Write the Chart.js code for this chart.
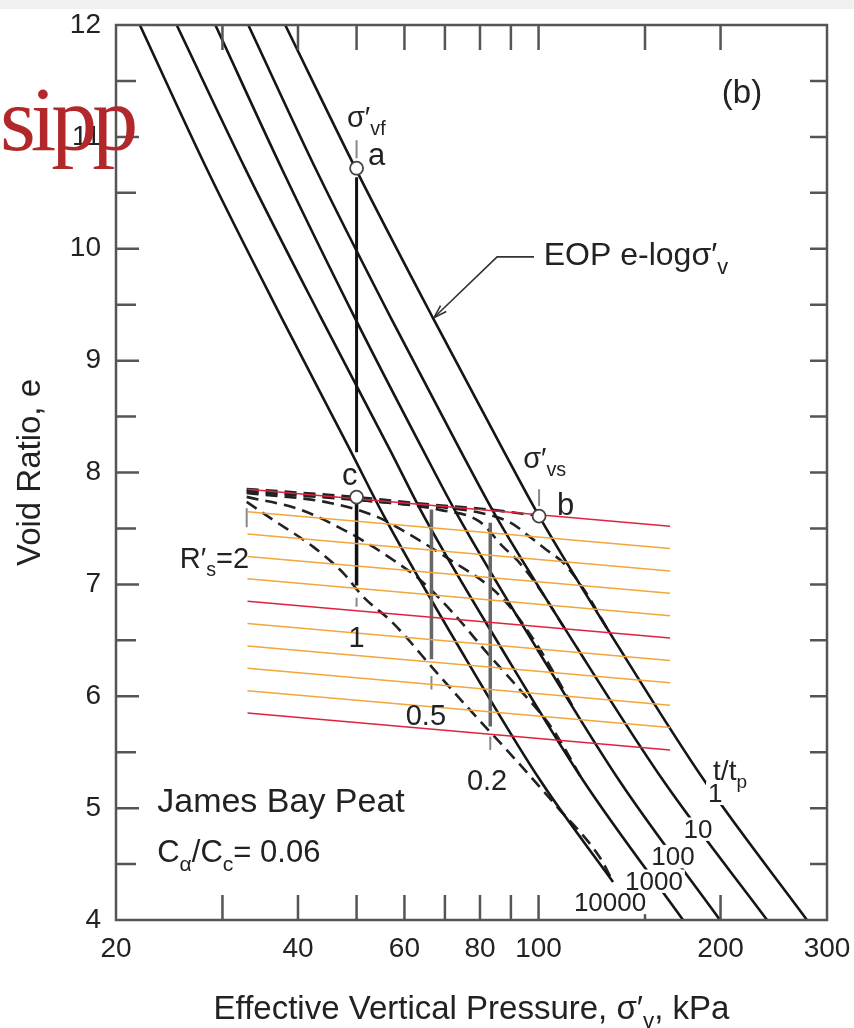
<!DOCTYPE html>
<html>
<head>
<meta charset="utf-8">
<script src="https://cdn.jsdelivr.net/npm/chart.js@4.4.1/dist/chart.umd.min.js"></script>
<style>
  html, body { margin: 0; padding: 0; background: #fff; }
  #wrap { position: relative; width: 854px; height: 1028px; overflow: hidden; }
  #chart { position: absolute; left: 0; top: 0; }
  #band { position: absolute; left: 0; top: 0; width: 854px; height: 9px; background: #f0f0f0; }
  #stamp { position: absolute; left: 0; top: 73px; font-family: "Liberation Serif", "Times New Roman", serif;
           font-size: 92px; line-height: 1; letter-spacing: -5px; color: #b2282a; }
</style>
</head>
<body>
<div id="wrap">
  <canvas id="chart" width="854" height="1028"></canvas>
  <div id="band"></div>
  <div id="stamp">sipp</div>
</div>
<script>
// axes
var xTickMarks = [30, 40, 50, 60, 70, 80, 90, 100, 150, 200];
var xTickLabels = [20, 40, 60, 80, 100, 200, 300];
var yTickMarks = [4.5, 5, 5.5, 6, 6.5, 7, 7.5, 8, 8.5, 9, 9.5, 10, 10.5, 11, 11.5];
var yTickLabels = [4, 5, 6, 7, 8, 9, 10, 11, 12];

// e - log sigma'v curves, t/tp = 1 (EOP), 10, 100, 1000, 10000
var eLevels = [12, 10.69, 9.38, 8.20, 7.61, 6.42, 5.235, 4.0];
var sigmaT1 = [38.1, 50.1, 66.9, 87.4, 100.2, 136.4, 188.6, 278];
var sigmaT10 = [33.1, 43.0, 57.0, 74.2, 85.0, 116.2, 161.3, 238.8];
var sigmaT100 = [29.2, 37.8, 49.7, 64.4, 73.6, 99.5, 136.4, 199.6];
var sigmaT1000 = [25.2, 32.9, 43.7, 56.8, 64.6, 87.0, 118.9, 173.4];
var sigmaT10000 = [21.9, 28.4, 37.6, 48.8, 55.5, 74.2, 101.0, 132.8];
var eT10000 = [12, 10.69, 9.38, 8.20, 7.61, 6.42, 5.235, 4.34];

// dashed paths after surcharge removal
var reboundSigma = [32.9, 50, 66.5, 83.2, 100.2];
var reboundE = [7.853, 7.78, 7.713, 7.668, 7.612];
var pathASigma = [32.9, 59.0, 80.0, 90.0, 97.0, 103.0, 110.0, 119.0, 130.0];
var pathAE = [7.83, 7.72, 7.64, 7.55, 7.42, 7.31, 7.19, 6.95, 6.60];
var pathBSigma = [32.9, 50.7, 68.7, 80.0, 87.4, 92.1, 100.6, 110.0];
var pathBE = [7.84, 7.755, 7.666, 7.559, 7.335, 7.219, 6.951, 6.62];
var pathCSigma = [32.9, 45.2, 54.1, 60.6, 71.4, 83.1, 89.7, 100.6, 115.0];
var pathCE = [7.818, 7.728, 7.603, 7.46, 7.219, 6.978, 6.799, 6.415, 5.87];
var pathDSigma = [32.9, 40.3, 47.5, 52.0, 57.4, 63.7, 72.2, 82.2, 93.2, 105.7, 118.0];
var pathDE = [7.782, 7.67, 7.49, 7.37, 7.22, 7.04, 6.745, 6.388, 6.057, 5.70, 5.26];
var pathR2Sigma = [32.9, 36.4, 42.4, 47.5, 51.3, 57.4, 67.9, 77.0, 90.7, 107.3, 126.4, 132.8];
var pathR2E = [7.737, 7.576, 7.335, 7.103, 6.888, 6.656, 6.209, 5.878, 5.459, 5.012, 4.556, 4.34];

// secondary compression at constant sigma'vf  (R's = 1, 0.5, 0.2)
var aDropSigma = 50, aDropE = [10.64, 8.18];
var verticalSigma = [50, 66.5, 83.2];
var verticalTopE = [7.72, 7.67, 7.55];
var verticalBottomE = [6.99, 6.33, 5.73];

// points a, b, c
var keySigma = [50, 100.2, 50];
var keyE = [10.72, 7.61, 7.78];

// small marker ticks
var markSigma = [50, 100.2, 32.9, 50, 66.5, 83.2];
var markTopE = [10.97, 7.85, 7.68, 6.88, 6.18, 5.64];
var markBottomE = [10.81, 7.70, 7.51, 6.80, 6.06, 5.52];

// overlaid guide lines
var guideSigma = [33, 165];
var guideLeftE = [7.85, 7.65, 7.45, 7.25, 7.05, 6.85, 6.65, 6.45, 6.25, 6.05, 5.85];
var guideRightE = [7.52, 7.32, 7.12, 6.92, 6.72, 6.52, 6.32, 6.12, 5.92, 5.72, 5.52];
var guideKind = ['r', 'o', 'o', 'o', 'o', 'r', 'o', 'o', 'o', 'o', 'r'];

var FONT = '"Liberation Sans", Arial, Helvetica, sans-serif';

function pts(sig, e) {
  return sig.map(function (s, i) { return { x: s, y: e[i] }; });
}

var datasets = [];

datasets.push({
  data: pts(keySigma, keyE), showLine: false, pointRadius: 6.5, pointStyle: 'circle',
  pointBackgroundColor: '#fff', pointBorderColor: '#444', pointBorderWidth: 1.8, order: 0
});

guideLeftE.forEach(function (e0, i) {
  datasets.push({
    data: pts(guideSigma, [e0, guideRightE[i]]), showLine: true, pointRadius: 0,
    borderColor: guideKind[i] === 'r' ? '#e0233d' : '#f2a63c', borderWidth: 1.5, order: 1
  });
});

datasets.push({ data: pts([aDropSigma, aDropSigma], aDropE), showLine: true, pointRadius: 0,
  borderColor: '#111', borderWidth: 3, order: 2 });
verticalSigma.forEach(function (s, i) {
  datasets.push({ data: pts([s, s], [verticalTopE[i], verticalBottomE[i]]), showLine: true, pointRadius: 0,
    borderColor: i === 0 ? '#111' : '#666', borderWidth: 3.5, order: 2 });
});
markSigma.forEach(function (s, i) {
  datasets.push({ data: pts([s, s], [markTopE[i], markBottomE[i]]), showLine: true, pointRadius: 0,
    borderColor: '#888', borderWidth: 2, order: 2 });
});

[sigmaT1, sigmaT10, sigmaT100, sigmaT1000].forEach(function (sig) {
  datasets.push({ data: pts(sig, eLevels), showLine: true, pointRadius: 0, borderColor: '#151515',
    borderWidth: 2.6, cubicInterpolationMode: 'monotone', order: 3 });
});
datasets.push({ data: pts(sigmaT10000, eT10000), showLine: true, pointRadius: 0, borderColor: '#151515',
  borderWidth: 2.6, cubicInterpolationMode: 'monotone', order: 3 });

[[reboundSigma, reboundE], [pathASigma, pathAE], [pathBSigma, pathBE], [pathCSigma, pathCE],
 [pathDSigma, pathDE], [pathR2Sigma, pathR2E]].forEach(function (p) {
  datasets.push({ data: pts(p[0], p[1]), showLine: true, pointRadius: 0, borderColor: '#222',
    borderWidth: 2.6, borderDash: [12, 7], cubicInterpolationMode: 'monotone', order: 3 });
});

function drawRich(ctx, parts, x, y, size, align, bg) {
  var sub = size * 0.68;
  var widths = parts.map(function (p) {
    ctx.font = (p[1] ? sub : size) + 'px ' + FONT;
    return ctx.measureText(p[0]).width;
  });
  var total = widths.reduce(function (a, b) { return a + b; }, 0);
  var cx = align === 'center' ? x - total / 2 : (align === 'right' ? x - total : x);
  if (bg) {
    ctx.fillStyle = '#fff';
    ctx.fillRect(cx - 2, y - size * 0.78, total + 4, size * 0.9);
  }
  ctx.fillStyle = '#222';
  ctx.textAlign = 'left';
  ctx.textBaseline = 'alphabetic';
  parts.forEach(function (p, i) {
    ctx.font = (p[1] ? sub : size) + 'px ' + FONT;
    ctx.fillText(p[0], cx, p[1] ? y + size * 0.28 : y);
    cx += widths[i];
  });
}

// labels, placed in data units
var notes = [
  { s: 217, e: 11.30, parts: [['(b)', 0]], size: 33, align: 'center' },
  { s: 48.2, e: 11.09, parts: [['σ′', 0], ['vf', 1]], size: 29, align: 'left' },
  { s: 52.2, e: 10.75, parts: [['a', 0]], size: 31, align: 'left' },
  { s: 102, e: 9.855, parts: [['EOP e-logσ′', 0], ['v', 1]], size: 32, align: 'left' },
  { s: 94.3, e: 8.04, parts: [['σ′', 0], ['vs', 1]], size: 29, align: 'left' },
  { s: 107.3, e: 7.62, parts: [['b', 0]], size: 31, align: 'left' },
  { s: 47.3, e: 7.89, parts: [['c', 0]], size: 31, align: 'left' },
  { s: 25.5, e: 7.147, parts: [['R′', 0], ['s', 1], ['=2', 0]], size: 29, align: 'left' },
  { s: 50, e: 6.44, parts: [['1', 0]], size: 29, align: 'center' },
  { s: 65.1, e: 5.745, parts: [['0.5', 0]], size: 29, align: 'center' },
  { s: 82.2, e: 5.164, parts: [['0.2', 0]], size: 29, align: 'center' },
  { s: 194.4, e: 5.253, parts: [['t/t', 0], ['p', 1]], size: 28, align: 'left' },
  { s: 196, e: 5.056, parts: [['1', 0]], size: 26, align: 'center', bg: true },
  { s: 183.6, e: 4.735, parts: [['10', 0]], size: 26, align: 'center', bg: true },
  { s: 166.9, e: 4.49, parts: [['100', 0]], size: 26, align: 'center', bg: true },
  { s: 155.2, e: 4.27, parts: [['1000', 0]], size: 26, align: 'center', bg: true },
  { s: 131.3, e: 4.08, parts: [['10000', 0]], size: 26, align: 'center', bg: true },
  { s: 23.4, e: 4.967, parts: [['James Bay Peat', 0]], size: 34, align: 'left' },
  { s: 23.4, e: 4.52, parts: [['C', 0], ['α', 1], ['/C', 0], ['c', 1], ['= 0.06', 0]], size: 31, align: 'left' }
];
var leader = [[98.3, 9.927], [85.4, 9.927], [67.1, 9.383]];

var framePlugin = {
  id: 'frame',
  afterDatasetsDraw: function (chart) {
    var ctx = chart.ctx, a = chart.chartArea, x = chart.scales.x, y = chart.scales.y;
    ctx.save();
    ctx.strokeStyle = '#555';
    ctx.lineWidth = 2.5;
    ctx.strokeRect(a.left, a.top, a.right - a.left, a.bottom - a.top);
    ctx.beginPath();
    xTickMarks.forEach(function (v) {
      var p = x.getPixelForValue(v);
      ctx.moveTo(p, a.bottom); ctx.lineTo(p, a.bottom - 25);
      ctx.moveTo(p, a.top); ctx.lineTo(p, a.top + 25);
    });
    yTickMarks.forEach(function (v) {
      var p = y.getPixelForValue(v);
      var len = v % 1 === 0 ? 23 : 20;
      ctx.moveTo(a.left, p); ctx.lineTo(a.left + len, p);
      ctx.moveTo(a.right, p); ctx.lineTo(a.right - 17, p);
    });
    ctx.stroke();

    // leader arrow for the EOP label
    ctx.strokeStyle = '#333';
    ctx.lineWidth = 1.6;
    ctx.beginPath();
    leader.forEach(function (q, i) {
      var px = x.getPixelForValue(q[0]), py = y.getPixelForValue(q[1]);
      if (i === 0) ctx.moveTo(px, py); else ctx.lineTo(px, py);
    });
    ctx.stroke();
    var tip = leader[leader.length - 1], prev = leader[leader.length - 2];
    var tx = x.getPixelForValue(tip[0]), ty = y.getPixelForValue(tip[1]);
    var ang = Math.atan2(ty - y.getPixelForValue(prev[1]), tx - x.getPixelForValue(prev[0]));
    ctx.beginPath();
    ctx.moveTo(tx, ty);
    ctx.lineTo(tx - 14 * Math.cos(ang - 0.3), ty - 14 * Math.sin(ang - 0.3));
    ctx.moveTo(tx, ty);
    ctx.lineTo(tx - 14 * Math.cos(ang + 0.3), ty - 14 * Math.sin(ang + 0.3));
    ctx.stroke();

    notes.forEach(function (n) {
      drawRich(ctx, n.parts, x.getPixelForValue(n.s), y.getPixelForValue(n.e), n.size, n.align, n.bg);
    });

    // x axis title with subscript
    drawRich(ctx, [['Effective Vertical Pressure, σ′', 0], ['v', 1], [', kPa', 0]],
      (a.left + a.right) / 2, 1019, 33, 'center', false);
    ctx.restore();
  }
};

new Chart(document.getElementById('chart'), {
  type: 'scatter',
  data: { datasets: datasets },
  options: {
    responsive: false,
    animation: false,
    layout: { padding: { top: 25, right: 27, left: 0, bottom: 0 } },
    plugins: { legend: { display: false }, tooltip: { enabled: false } },
    scales: {
      x: {
        type: 'logarithmic', min: 20, max: 300,
        grid: { display: false, drawTicks: false }, border: { display: false },
        afterBuildTicks: function (s) { s.ticks = xTickLabels.map(function (v) { return { value: v }; }); },
        afterFit: function (s) { s.height = 108; s.paddingLeft = 0; s.paddingRight = 0; },
        ticks: { autoSkip: false, maxRotation: 0, padding: 12, color: '#222',
                 font: { family: FONT, size: 28 }, callback: function (v) { return String(v); } }
      },
      y: {
        min: 4, max: 12,
        grid: { display: false, drawTicks: false }, border: { display: false },
        afterBuildTicks: function (s) { s.ticks = yTickLabels.map(function (v) { return { value: v }; }); },
        afterFit: function (s) { s.width = 116; s.paddingTop = 0; s.paddingBottom = 0; },
        ticks: { padding: 15, color: '#222', font: { family: FONT, size: 28 } },
        title: { display: true, text: 'Void Ratio, e', color: '#222', font: { family: FONT, size: 33 },
                 padding: { top: 11, bottom: 0 } }
      }
    }
  },
  plugins: [framePlugin]
});
</script>
</body>
</html>
